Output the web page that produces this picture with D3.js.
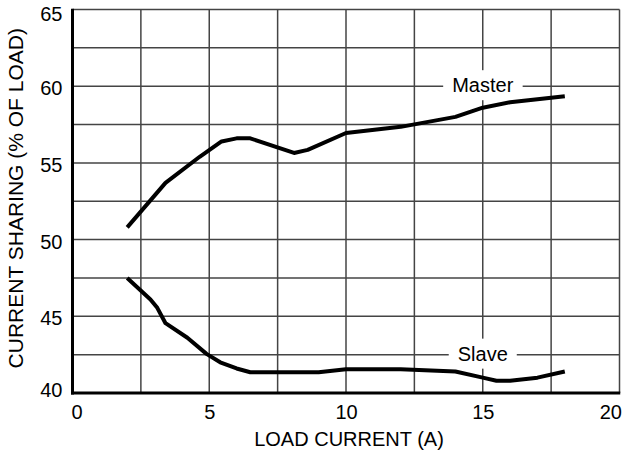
<!DOCTYPE html>
<html>
<head>
<meta charset="utf-8">
<script src="https://cdn.jsdelivr.net/npm/d3@7"></script>
<style>
  html, body { margin: 0; padding: 0; background: #fff; }
  svg { display: block; font-family: "Liberation Sans", Arial, Helvetica, sans-serif; }
</style>
</head>
<body>
<svg id="chart" width="624" height="457"></svg>
<script>
// Load current (A) vs. share of load carried by each module (%)
const masterCurrent = [2, 3.4, 4.65, 5.45, 6.0, 6.5, 8.1, 8.6, 10.0, 12.0, 14.0, 15.0, 16.0, 18.0];
const masterShare   = [50.8, 53.7, 55.4, 56.4, 56.6, 56.6, 55.65, 55.85, 56.95, 57.35, 58.0, 58.6, 58.95, 59.35];

const slaveCurrent = [2, 2.85, 3.1, 3.4, 4.2, 4.9, 5.4, 6.0, 6.5, 9.0, 10.0, 12.0, 14.0, 15.0, 15.5, 16.0, 17.0, 18.0];
const slaveShare   = [47.5, 46.1, 45.55, 44.55, 43.6, 42.55, 42.0, 41.6, 41.35, 41.35, 41.55, 41.55, 41.4, 41.0, 40.8, 40.8, 41.0, 41.4];

const xTickValues = [0, 5, 10, 15, 20];
const yTickValues = [40, 45, 50, 55, 60, 65];
const xGridValues = [0, 2.5, 5, 7.5, 10, 12.5, 15, 17.5, 20];
const yGridValues = [40, 42.5, 45, 47.5, 50, 52.5, 55, 57.5, 60, 62.5, 65];

const seriesLabels = [
  { name: "Master", x: 15, y: 60 },
  { name: "Slave",  x: 15, y: 42.5 }
];

const xTitle = "LOAD CURRENT (A)";
const yTitle = "CURRENT SHARING (% OF LOAD)";

const svg = d3.select("#chart");
const plotLeft = 72.5, plotRight = 619.5, plotTop = 9.5, plotBottom = 393;

const x = d3.scaleLinear().domain([0, 20]).range([plotLeft, plotRight]);
const y = d3.scaleLinear().domain([40, 65]).range([plotBottom, plotTop]);

// grid
const grid = svg.append("g").attr("stroke", "#444").attr("stroke-width", 1.5);
grid.selectAll("line.v").data(xGridValues).join("line")
  .attr("class", "v")
  .attr("x1", d => x(d)).attr("x2", d => x(d))
  .attr("y1", y(65)).attr("y2", y(40));
grid.selectAll("line.h").data(yGridValues).join("line")
  .attr("class", "h")
  .attr("x1", x(0)).attr("x2", x(20))
  .attr("y1", d => y(d)).attr("y2", d => y(d));

// label boxes that break the grid behind each series name
const labelG = svg.append("g");
seriesLabels.forEach(l => {
  const t = labelG.append("text")
    .attr("x", x(l.x)).attr("y", y(l.y)).attr("dy", "0.3em")
    .attr("text-anchor", "middle")
    .attr("font-size", 20).attr("fill", "#000")
    .text(l.name);
  const bb = t.node().getBBox();
  labelG.insert("rect", "text")
    .attr("x", bb.x - 9).attr("width", bb.width + 18)
    .attr("y", bb.y - 4).attr("height", bb.height + 8)
    .attr("fill", "#fff");
});

// axes
svg.append("line")
  .attr("x1", x(0)).attr("x2", x(0)).attr("y1", y(65) - 0.75).attr("y2", y(40) + 1.5)
  .attr("stroke", "#000").attr("stroke-width", 3);
svg.append("line")
  .attr("x1", x(0) - 1.5).attr("x2", x(20) + 0.75).attr("y1", y(40)).attr("y2", y(40))
  .attr("stroke", "#000").attr("stroke-width", 3);

const xAxis = svg.append("g")
  .attr("transform", `translate(0,${plotBottom})`)
  .call(d3.axisBottom(x).tickValues(xTickValues).tickSize(0).tickPadding(0).tickFormat(d3.format("d")));
xAxis.select(".domain").remove();
xAxis.selectAll("text")
  .attr("font-size", 20).attr("fill", "#000").attr("font-family", null)
  .attr("y", 26).attr("dy", 0)
  .attr("text-anchor", (d, i, n) => i === 0 ? "start" : (i === n.length - 1 ? "end" : "middle"))
  .attr("dx", (d, i, n) => i === 0 ? -1.5 : (i === n.length - 1 ? 2 : 0));

const yAxis = svg.append("g")
  .attr("transform", `translate(${plotLeft},0)`)
  .call(d3.axisLeft(y).tickValues(yTickValues).tickSize(0).tickPadding(10).tickFormat(d3.format("d")));
yAxis.select(".domain").remove();
yAxis.selectAll("text")
  .attr("font-size", 20).attr("fill", "#000").attr("font-family", null)
  .attr("dy", (d, i, n) => i === 0 ? "0.18em" : (i === n.length - 1 ? "0.53em" : "0.42em"));

// titles
svg.append("text")
  .attr("x", 349).attr("y", 445.5)
  .attr("text-anchor", "middle").attr("font-size", 20).attr("fill", "#000")
  .text(xTitle);
svg.append("text")
  .attr("transform", `translate(23,${(plotTop + plotBottom) / 2 - 3}) rotate(-90)`)
  .attr("text-anchor", "middle").attr("font-size", 21).attr("fill", "#000")
  .text(yTitle);

// curves
const line = d3.line().x(d => x(d[0])).y(d => y(d[1])).curve(d3.curveLinear);
const curves = [
  d3.zip(masterCurrent, masterShare),
  d3.zip(slaveCurrent, slaveShare)
];
svg.append("g").selectAll("path").data(curves).join("path")
  .attr("d", line)
  .attr("fill", "none").attr("stroke", "#000")
  .attr("stroke-width", 4).attr("stroke-linejoin", "round").attr("stroke-linecap", "butt");
</script>
</body>
</html>
